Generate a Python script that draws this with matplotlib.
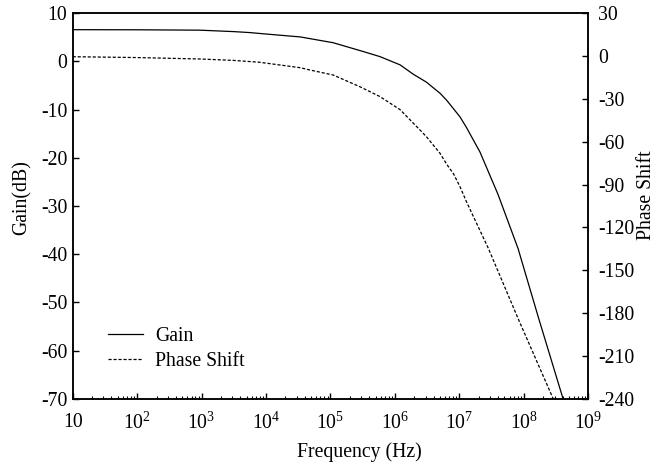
import matplotlib
matplotlib.use('Agg')
import matplotlib.pyplot as plt
import numpy as np

plt.rcParams['font.family'] = 'Liberation Serif'
plt.rcParams['mathtext.fontset'] = 'custom'
plt.rcParams['mathtext.rm'] = 'Liberation Serif'
plt.rcParams['mathtext.it'] = 'Liberation Serif:italic'
plt.rcParams['axes.unicode_minus'] = False

# Gain curve (log10 of frequency, dB)
gain_logf = [1.0, 2.0, 2.975, 3.5, 3.75, 4.0, 4.53, 5.04, 5.5, 5.77, 6.08, 6.28, 6.49, 6.70,
             6.80, 7.01, 7.11, 7.32, 7.60, 7.91, 8.23, 8.62]
gain_db = [6.6, 6.58, 6.5, 6.2, 6.0, 5.7, 5.1, 3.9, 2.1, 1.0, -0.7, -2.6, -4.3, -6.6,
           -8.0, -11.5, -13.7, -18.8, -27.6, -38.8, -53.3, -70.5]

# Phase curve (log10 of frequency, degrees)
phase_logf = [1.0, 2.0, 2.975, 3.5, 3.9, 4.53, 4.68, 5.04, 5.46, 5.77, 6.08, 6.39, 6.49, 6.70,
              6.80, 6.91, 7.01, 7.11, 7.45, 7.91, 8.47]
phase_deg = [-0.4, -1.0, -2.0, -3.0, -4.3, -8.1, -9.7, -13.2, -21.5, -28.4, -37.5, -51.8, -56.5, -68.1,
             -75.5, -82.5, -91.5, -102.0, -134.7, -183.7, -241.5]

fig = plt.figure(figsize=(6.7, 4.67), dpi=100)
ax = fig.add_axes([0.1085, 0.1462, 0.7695, 0.8253])
ax2 = ax.twinx()

f_gain = 10 ** np.array(gain_logf)
f_phase = 10 ** np.array(phase_logf)

l1, = ax.plot(f_gain, gain_db, color='black', lw=0.9, label='Gain')
l2, = ax2.plot(f_phase, phase_deg, color='black', lw=0.9, ls=(0, (2.5, 1.5)), label='Phase Shift')

ax.set_xscale('log')
ax.set_xlim(10, 1e9)
ax.set_ylim(-70, 10)
ax2.set_ylim(-240, 30)
ax.set_yticks(range(-70, 11, 10))
ax2.set_yticks(range(-240, 31, 30))

xt = [10 ** n for n in range(1, 10)]
xl = ['10'] + ['$10^{%d}$' % n for n in range(2, 10)]
ax.set_xticks(xt)
ax.set_xticklabels(xl)

fs = 14.2
ax.tick_params(axis='x', which='major', direction='in', length=4, width=1, labelsize=fs, pad=10)
ax.tick_params(axis='y', which='major', direction='in', length=4, width=1, labelsize=fs, pad=4)
ax.tick_params(axis='x', which='minor', direction='in', length=2.5, width=0.8)
ax2.tick_params(axis='y', direction='in', length=4, width=1, labelsize=fs, pad=7)
for a in (ax, ax2):
    for s in a.spines.values():
        s.set_linewidth(1.1)

ax.set_xlabel('Frequency (Hz)', fontsize=fs)
ax.set_ylabel('Gain(dB)', fontsize=fs)
ax2.set_ylabel('Phase Shift', fontsize=fs)
ax.xaxis.set_label_coords(0.557, -0.113)
ax.yaxis.set_label_coords(-0.079, 0.522)
ax2.yaxis.set_label_coords(1.094, 0.529)

ax.legend([l1, l2], ['Gain', 'Phase Shift'], loc='lower left', bbox_to_anchor=(0.0685, 0.072),
          borderpad=0, borderaxespad=0, frameon=False, fontsize=fs,
          handlelength=1.75, handletextpad=0.65, labelspacing=0.3)

fig.savefig('out.png', dpi=100)
